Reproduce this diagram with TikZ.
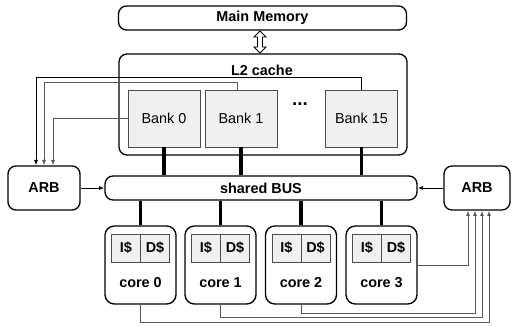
\documentclass[tikz,border=0pt]{standalone}
\usepackage{fontspec}
\setmainfont{Liberation Sans}
\usetikzlibrary{arrows.meta}
\newcommand{\diafont}{\fontsize{10.8}{12}\selectfont}
\tikzset{
    box/.style={draw, line width=1pt, rounded corners=6pt, font=\diafont\bfseries},
    bank/.style={draw=black!70, fill=black!6, line width=0.7pt, font=\diafont,
      minimum width=54pt, minimum height=42.75pt},
    core/.style={draw, line width=1pt, rounded corners=7pt,
      minimum width=53.25pt, minimum height=58.5pt},
    cell/.style={draw=black!70, fill=black!6, line width=0.6pt, font=\diafont\bfseries,
      minimum width=21.75pt, minimum height=21pt, inner sep=0pt},
    label/.style={font=\diafont\bfseries},
    link/.style={line width=2.3pt},
    req/.style={draw=black!65, line width=0.7pt, -{Latex[length=4pt,width=3pt]}}
}

\begin{document}
\begin{tikzpicture}[x=0.75pt, y=-0.75pt]
      \useasboundingbox (0,0) rectangle (512,327);
      % memory and L2
      \node [box, minimum width=216pt, minimum height=18pt] (mem) at (262.5,18) {Main Memory};
      \node [box, minimum width=216pt, minimum height=75.75pt] (l2) at (263,104.5) {};
      \node [label] (l2name) at (262,70) {L2 cache};
      \node [bank] (bank0) at (164,118.5) {Bank 0};
      \node [bank] (bank1) at (241,118.5) {Bank 1};
      \node [bank] (bank15) at (361.5,118.5) {Bank 15};
      \node [font=\fontsize{14}{14}\selectfont\bfseries] (dots) at (300,104) {...};
      \draw [line width=0.7pt, fill=white] (260,31) -- (266,37) -- (262.5,37) -- (262.5,47)
        -- (266,47) -- (260,53) -- (254,47) -- (257.5,47) -- (257.5,37) -- (254,37) -- cycle;
      % bus and arbiters
      \node [box, minimum width=234pt, minimum height=18pt] (bus) at (261,188) {shared BUS};
      \node [box, minimum width=54pt, minimum height=33pt] (arbL) at (44,188) {ARB};
      \node [box, minimum width=49.5pt, minimum height=33pt] (arbR) at (477,188) {ARB};
      \draw [req, draw=black] (arbL.east) -- (bus.west);
      \draw [req, draw=black] (arbR.west) -- (bus.east);
      % cores
      \node [core] (core0) at (140.5,265) {};
      \node [cell] (c0i) at (126,248) {I\$};
      \node [cell] (c0d) at (155,248) {D\$};
      \node [label] (c0name) at (140.5,283) {core 0};
      \node [core] (core1) at (220.5,265) {};
      \node [cell] (c1i) at (206,248) {I\$};
      \node [cell] (c1d) at (235,248) {D\$};
      \node [label] (c1name) at (220.5,283) {core 1};
      \node [core] (core2) at (301,265) {};
      \node [cell] (c2i) at (286.5,248) {I\$};
      \node [cell] (c2d) at (315.5,248) {D\$};
      \node [label] (c2name) at (301,283) {core 2};
      \node [core] (core3) at (381.5,265) {};
      \node [cell] (c3i) at (367,248) {I\$};
      \node [cell] (c3d) at (396,248) {D\$};
      \node [label] (c3name) at (381.5,283) {core 3};
      % bus links
      \draw [link] (bank0.south) -- (bank0.south |- bus.north);
      \draw [link] (bank1.south) -- (bank1.south |- bus.north);
      \draw [link] (bank15.south) -- (bank15.south |- bus.north);
      \draw [link] (bus.south -| core0.north) -- (core0.north);
      \draw [link] (bus.south -| core1.north) -- (core1.north);
      \draw [link] (bus.south -| core2.north) -- (core2.north);
      \draw [link] (bus.south -| core3.north) -- (core3.north);
      % requests to the arbiters
      \draw [req, draw=black] (bank15.north) -- ++(0,-12) -| ([xshift=-6pt]arbL.north);
      \draw [req] ([xshift=-3pt]bank1.north) -- ++(0,-7) -| (arbL.north);
      \draw [req] (bank0.west) -| ([xshift=6.75pt]arbL.north);
      \draw [req] (core3.east) -| ([xshift=-6.75pt]arbR.south);
      \draw [req] (core2.south) -- ++(0,9) -| ([xshift=-1.5pt]arbR.south);
      \draw [req] (core1.south) -- ++(0,13) -| ([xshift=3.75pt]arbR.south);
      \draw [req] (core0.south) -- ++(0,18) -| ([xshift=9pt]arbR.south);
\end{tikzpicture}
\end{document}
